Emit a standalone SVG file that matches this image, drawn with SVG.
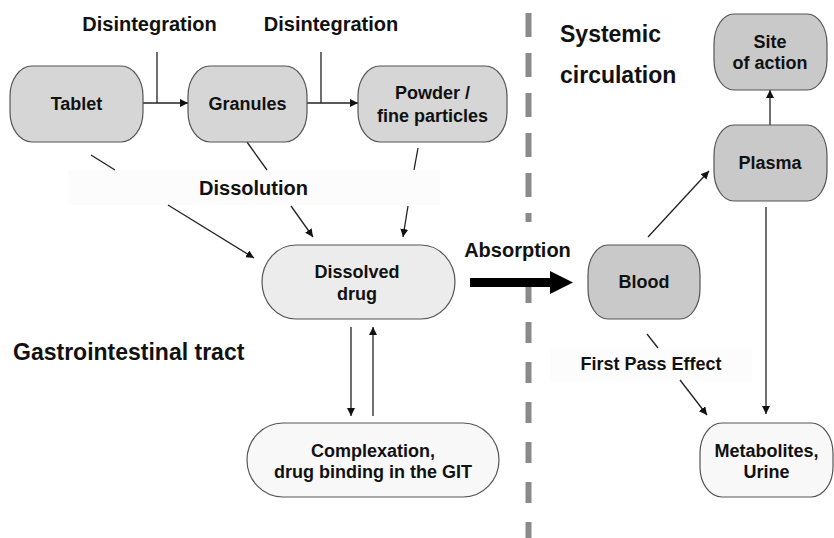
<svg xmlns="http://www.w3.org/2000/svg" width="834" height="538" viewBox="0 0 834 538">
<defs>
<marker id="ah" viewBox="0 0 10 10" refX="10" refY="5" markerWidth="8" markerHeight="8" markerUnits="userSpaceOnUse" orient="auto">
<path d="M0,0 L10,5 L0,10 z" fill="#111"/>
</marker>
<style>
text{font-family:"Liberation Sans",Arial,sans-serif;font-weight:bold;fill:#111;}
.n{font-size:18px;text-anchor:middle;}
.l{font-size:20px;text-anchor:middle;}
.big{font-size:23px;}
.box{stroke:#555;stroke-width:1.2;}
.g1{fill:#d6d6d6;}
.g2{fill:#c9c9c9;}
.g3{fill:#ececec;}
.g4{fill:#f8f8f8;}
.c{stroke:#222;stroke-width:1.3;fill:none;}
.ca{stroke:#222;stroke-width:1.3;fill:none;marker-end:url(#ah);}
.dash{stroke:#8a8a8a;stroke-width:6;fill:none;}
.bg{fill:#fcfcfc;}
</style>
</defs>
<rect width="834" height="538" fill="#fff"/>

<g id="divider">
<line class="dash" x1="528.5" y1="13" x2="528.5" y2="222" stroke-dasharray="24 16"/>
<line class="dash" x1="528.5" y1="282" x2="528.5" y2="538" stroke-dasharray="21 19"/>
</g>

<g id="label-bgs">
<rect class="bg" x="68" y="170" width="372" height="35"/>
<rect class="bg" x="550" y="348" width="202" height="34"/>
</g>

<g id="connectors">
<line class="ca" x1="143" y1="103" x2="188" y2="103"/>
<line class="c" x1="157" y1="52" x2="157" y2="103"/>
<line class="ca" x1="307" y1="103" x2="358" y2="103"/>
<line class="c" x1="321" y1="52" x2="321" y2="103"/>
<line class="c" x1="91" y1="155" x2="115" y2="170"/>
<line class="ca" x1="168" y1="205" x2="254" y2="258"/>
<line class="c" x1="247" y1="142" x2="267" y2="170"/>
<line class="ca" x1="291" y1="206" x2="313" y2="237"/>
<line class="c" x1="418" y1="148" x2="414" y2="170"/>
<line class="ca" x1="408" y1="206" x2="403" y2="237"/>
<line class="ca" x1="351" y1="327" x2="351" y2="416"/>
<line class="ca" x1="373" y1="416" x2="373" y2="327"/>
<path d="M470,278 H550 V271 L573,282.5 L550,294 V287 H470 z" fill="#000"/>
<line class="ca" x1="648" y1="237" x2="709" y2="171"/>
<line class="ca" x1="770" y1="125" x2="770" y2="90"/>
<line class="ca" x1="766" y1="207" x2="766" y2="414"/>
<line class="c" x1="647" y1="334" x2="658" y2="348"/>
<line class="ca" x1="680" y1="380" x2="707" y2="415"/>
</g>

<g id="tablet">
<rect class="box g1" x="10" y="66" width="133" height="76" rx="22" ry="30"/>
<text class="n" x="76.5" y="110">Tablet</text>
</g>
<g id="granules">
<rect class="box g1" x="188" y="66" width="119" height="76" rx="22" ry="30"/>
<text class="n" x="247.5" y="110">Granules</text>
</g>
<g id="powder">
<rect class="box g1" x="358" y="66" width="149" height="76" rx="22" ry="30"/>
<text class="n" x="432.5" y="99">Powder /</text>
<text class="n" x="432.5" y="122">fine particles</text>
</g>
<g id="dissolved">
<rect class="box g3" x="262" y="245" width="193" height="74" rx="34" ry="37"/>
<text class="n" x="357" y="278">Dissolved</text>
<text class="n" x="357" y="300">drug</text>
</g>
<g id="complexation">
<rect class="box g4" x="247" y="423" width="252" height="74" rx="36" ry="37"/>
<text class="n" x="373" y="457">Complexation,</text>
<text class="n" x="373" y="478">drug binding in the GIT</text>
</g>
<g id="blood">
<rect class="box g2" x="588" y="245" width="112" height="74" rx="20" ry="30"/>
<text class="n" x="644" y="288">Blood</text>
</g>
<g id="plasma">
<rect class="box g2" x="714" y="125" width="113" height="76" rx="20" ry="30"/>
<text class="n" x="770" y="169">Plasma</text>
</g>
<g id="site">
<rect class="box g2" x="714" y="14" width="113" height="76" rx="20" ry="30"/>
<text class="n" x="770" y="48">Site</text>
<text class="n" x="770" y="69">of action</text>
</g>
<g id="metabolites">
<rect class="box g4" x="700" y="423" width="133" height="74" rx="22" ry="30"/>
<text class="n" x="766.5" y="457">Metabolites,</text>
<text class="n" x="766.5" y="478">Urine</text>
</g>

<g id="labels">
<text class="l" x="149.5" y="31">Disintegration</text>
<text class="l" x="331" y="31">Disintegration</text>
<text class="l" x="253.5" y="195">Dissolution</text>
<text class="l" x="517.5" y="257">Absorption</text>
<text class="n" x="651" y="370">First Pass Effect</text>
<text class="big" x="13" y="360">Gastrointestinal tract</text>
<text class="big" x="560" y="42">Systemic</text>
<text class="big" x="560" y="83">circulation</text>
</g>
</svg>
